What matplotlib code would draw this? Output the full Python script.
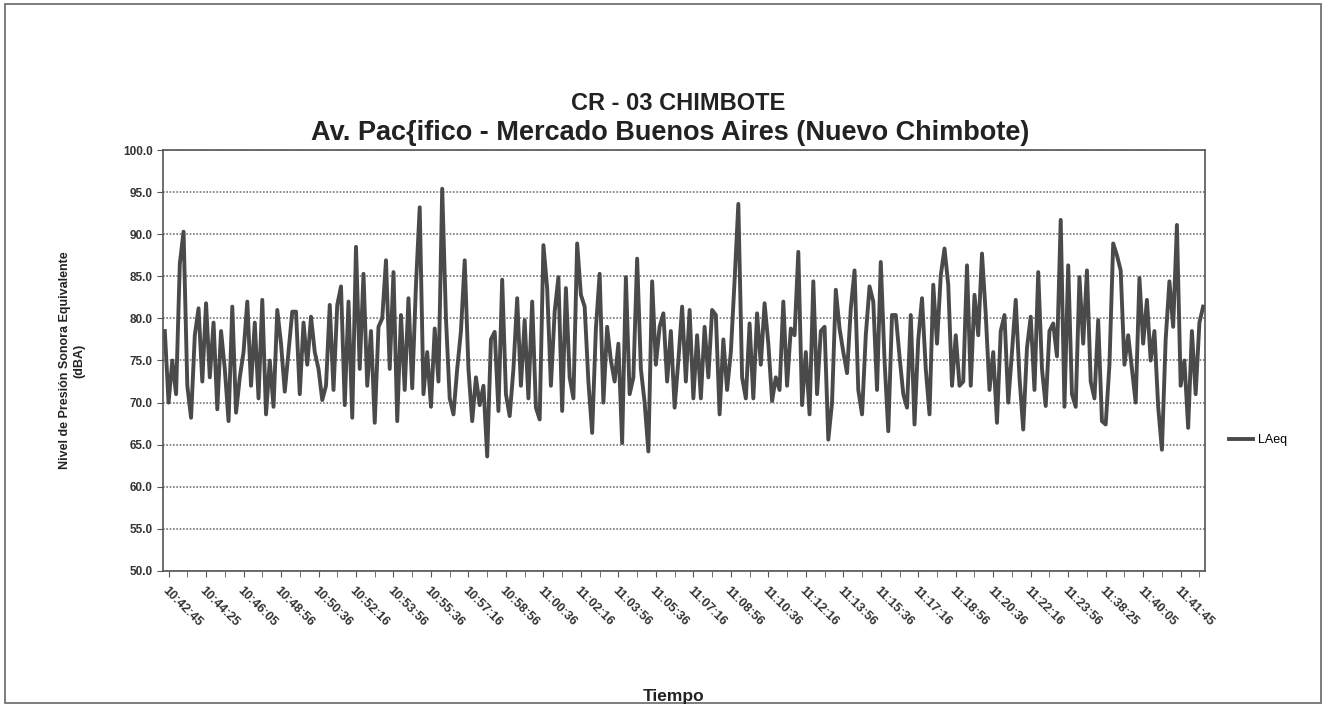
import matplotlib.pyplot as plt
import matplotlib.patches as mpatches
import numpy as np

plt.rcParams['font.family'] = ['Liberation Sans', 'DejaVu Sans']

# LAeq values (left to right)
laeq = [
    78.5, 70, 75, 71, 86.5, 90.3, 72, 68.2, 78, 81.2, 72.5, 81.8, 73, 79.5, 69.2, 78.5, 74, 67.8,
    81.4, 68.8, 73, 76, 82, 72, 79.5, 70.5, 82.2, 68.6, 75, 69.5, 81, 77, 71.3, 76, 80.8,
    # segment 2
    80.8, 71, 79.5, 74.5, 80.2, 76, 74, 70.3, 72, 81.6, 71.5, 81.6, 83.8, 69.7, 82, 68.2, 88.5, 74,
    85.3, 72, 78.5, 67.6, 79, 80, 86.9, 74, 85.5, 67.8, 80.4, 71.5, 82.4, 71.7, 84, 93.2, 71, 76,
    # segment 3
    69.5, 78.8, 72.5, 95.4, 80, 70.5, 68.6, 74, 78.5, 86.9, 74, 67.8, 73, 69.7, 72, 63.6, 77.5, 78.4,
    69, 84.6, 71, 68.4, 74, 82.4, 72, 79.8, 70.5, 82, 69.4, 68, 88.7, 83.6, 72, 80.8, 84.9, 69,
    # segment 4
    83.6, 73, 70.5, 88.9, 82.8, 81.4, 72.5, 66.4, 78.8, 85.3, 70, 79, 75, 72.5, 77, 65.2, 84.9, 71,
    73, 87.1, 74, 70, 64.2, 84.4, 74.5, 79, 80.6, 72.5, 78.5, 69.4, 75, 81.4, 72.5, 81, 70.5, 78,
    # segment 5
    70.5, 79, 73, 81, 80.4, 68.6, 77.5, 71.5, 76, 84.5, 93.6, 73, 70.5, 79.4, 70.5, 80.6, 74.5, 81.8,
    77, 70.2, 73, 71.5, 82, 72, 78.8, 78, 87.9, 69.7, 76, 68.6, 84.4, 71, 78.5, 79, 65.6, 70,
    # segment 6
    83.4, 78.8, 76, 73.5, 81.2, 85.7, 71.5, 68.6, 78, 83.8, 82, 71.5, 86.7, 75, 66.6, 80.4, 80.4, 75.5,
    71, 69.4, 80.4, 67.4, 77.5, 82.4, 74, 68.6, 84, 77, 85.1, 88.3, 84, 72, 78, 72, 72.5, 86.3,
    # segment 7
    72, 82.8, 78, 87.7, 80.5, 71.5, 76, 67.6, 78.5, 80.4, 70, 76, 82.2, 73, 66.8, 76.5, 80.2, 71.5,
    85.5, 74, 69.6, 78.5, 79.4, 75.5, 91.7, 69.5, 86.3, 71, 69.5, 84.9, 77, 85.7, 72.5, 70.5, 79.8, 67.8,
    # segment 8
    67.4, 74.5, 88.9, 87.5, 85.7, 74.5, 78, 74, 70, 84.8, 77, 82.2, 75, 78.5, 69.5, 64.4, 77.5, 84.4,
    79, 91.1, 72, 75, 67, 78.5, 71, 79.5, 81.4,
]

time_labels = [
    '10:42:45', '10:44:25', '10:46:05', '10:48:56', '10:50:36', '10:52:16', '10:53:56',
    '10:55:36', '10:57:16', '10:58:56', '11:00:36', '11:02:16', '11:03:56', '11:05:36',
    '11:07:16', '11:08:56', '11:10:36', '11:12:16', '11:13:56', '11:15:36', '11:17:16',
    '11:18:56', '11:20:36', '11:22:16', '11:23:56', '11:38:25', '11:40:05', '11:41:45',
]
label_step = 10

x = np.arange(len(laeq))

fig = plt.figure(figsize=(13.28, 7.07), dpi=100)
ax = fig.add_axes([0.1227, 0.1924, 0.7847, 0.5954])

ax.plot(x, laeq, color='#4a4a4a', linewidth=2.8, label='LAeq')

ax.set_ylim(50, 100)
ax.set_yticks(np.arange(50, 100.1, 5))
ax.set_yticklabels([f'{v:.1f}' for v in np.arange(50, 100.1, 5)],
                   fontsize=8.5, fontweight='bold', color='#333333')
ax.yaxis.grid(True, color='#777777', linestyle=(0, (1, 1)), linewidth=1.2)
ax.set_axisbelow(True)

ax.set_xlim(-0.5, len(laeq) - 0.5)
tick_pos = np.arange(1, len(laeq), label_step)[:len(time_labels)]
ax.set_xticks(np.arange(1, len(laeq), label_step // 2), minor=True)
ax.set_xticks(tick_pos)
ax.set_xticklabels(time_labels, rotation=-45, ha='left', rotation_mode='anchor',
                   fontsize=9, fontweight='bold', color='#333333')
ax.tick_params(axis='x', which='both', length=4, color='#555555', pad=6)
ax.tick_params(axis='y', length=4, color='#555555')

for s in ax.spines.values():
    s.set_color('#555555')
    s.set_linewidth(1.2)

ax.set_ylabel('Nivel de Presión Sonora Equivalente\n(dBA)', fontsize=9,
              fontweight='bold', color='#222222', labelpad=27)
fig.text(674 / 1328, 1 - 697 / 707, 'Tiempo', ha='center', va='center',
         fontsize=12.5, fontweight='bold', color='#222222')

fig.text(678 / 1328, 1 - 103 / 707, 'CR - 03 CHIMBOTE', ha='center', va='center',
         fontsize=17, fontweight='bold', color='#222222')
fig.text(670 / 1328, 1 - 133 / 707, 'Av. Pac{ifico - Mercado Buenos Aires (Nuevo Chimbote)',
         ha='center', va='center', fontsize=19.5, fontweight='bold', color='#222222')

ax.legend(loc='center left', bbox_to_anchor=(1.012, 0.31), frameon=False,
          fontsize=9, handlelength=1.9, handletextpad=0.4)

fig.patches.append(mpatches.Rectangle((0.004, 0.006), 0.991, 0.988, transform=fig.transFigure,
                                      fill=False, edgecolor='#666666', linewidth=1.2))

fig.savefig('out.png', dpi=100)
